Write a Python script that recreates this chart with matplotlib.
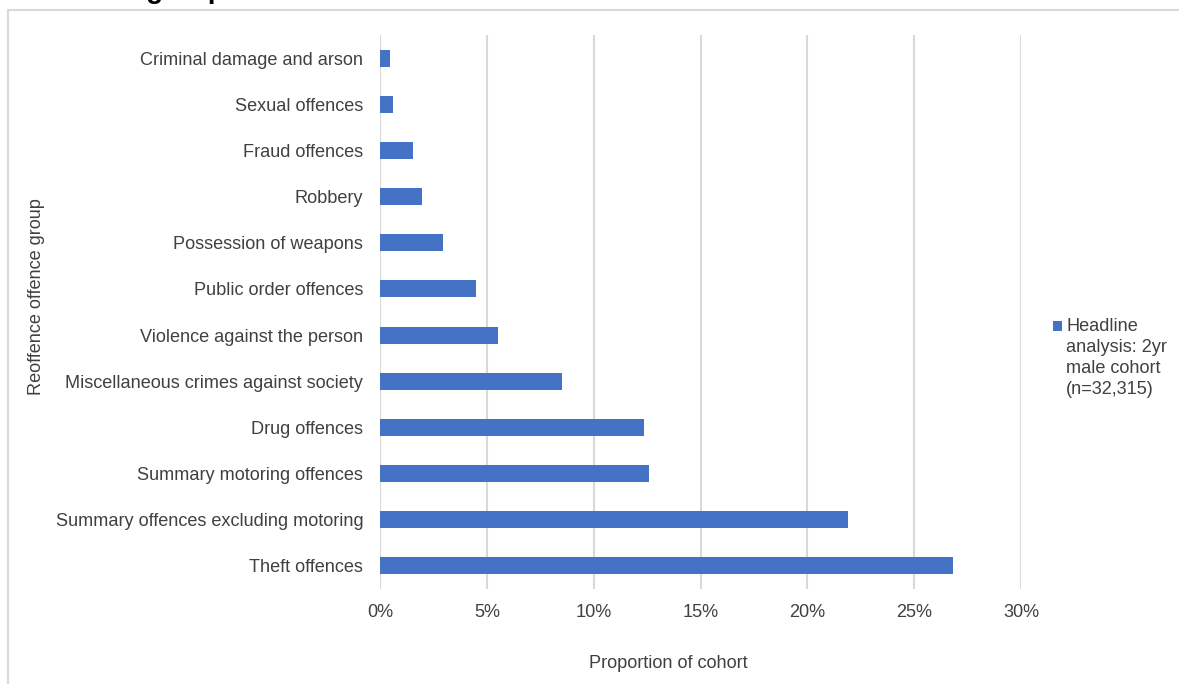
import matplotlib
matplotlib.use("Agg")
import matplotlib.pyplot as plt
from matplotlib.lines import Line2D
from matplotlib.patches import Rectangle
from matplotlib.ticker import FuncFormatter

plt.rcParams['font.family'] = ['Liberation Sans', 'DejaVu Sans']

categories = [
    "Theft offences",
    "Summary offences excluding motoring",
    "Summary motoring offences",
    "Drug offences",
    "Miscellaneous crimes against society",
    "Violence against the person",
    "Public order offences",
    "Possession of weapons",
    "Robbery",
    "Fraud offences",
    "Sexual offences",
    "Criminal damage and arson",
]
proportions = [26.8, 21.9, 12.6, 12.35, 8.5, 5.5, 4.5, 2.95, 1.95, 1.55, 0.6, 0.47]
series_name = "Headline\nanalysis: 2yr\nmale cohort\n(n=32,315)"
x_ticks = [0, 5, 10, 15, 20, 25, 30]

bar_color = "#4472C4"
grid_color = "#d9d9d9"
text_color = "#404040"
fs = 13.1

W, H = 1179, 684
fig = plt.figure(figsize=(W / 100, H / 100), dpi=100)
ax = fig.add_axes([380 / W, 1 - 589 / H, (1021 - 380) / W, (589 - 35) / H])

y = list(range(len(categories)))
ax.barh(y, proportions, height=0.37, color=bar_color, zorder=3)

ax.set_xlim(0, 30)
ax.set_ylim(-0.5, len(categories) - 0.5)
ax.set_xticks(x_ticks)
ax.xaxis.set_major_formatter(FuncFormatter(lambda v, _: f"{v:.0f}%"))
ax.set_yticks(y)
ax.set_yticklabels(categories)

for xv in x_ticks:
    ax.axvline(xv, color=grid_color, linewidth=1.5, zorder=1)

for s in ax.spines.values():
    s.set_visible(False)
ax.tick_params(axis='both', length=0, labelsize=fs, labelcolor=text_color)
ax.tick_params(axis='x', pad=11)
ax.tick_params(axis='y', pad=12)

# axis titles
fig.text(668 / W, 1 - 664 / H, "Proportion of cohort", ha='center', va='center',
         fontsize=fs, color=text_color)
fig.text(37 / W, 1 - 297 / H, "Reoffence offence group", rotation=90,
         ha='center', va='center', fontsize=fs, color=text_color)

# legend: square key next to the first line of the series name
fig.add_artist(Rectangle((1053 / W, 1 - 331 / H), 9 / W, 10 / H,
                         transform=fig.transFigure, color=bar_color, linewidth=0))
fig.text(1066 / W, 1 - 318 / H, series_name, ha='left', va='top',
         fontsize=fs, color=text_color, linespacing=1.3)

# chart frame
fig.add_artist(Line2D([8 / W, 8 / W], [0, 1 - 10 / H],
                      transform=fig.transFigure, color=grid_color, linewidth=1.5))
fig.add_artist(Line2D([8 / W, 1], [1 - 10 / H, 1 - 10 / H],
                      transform=fig.transFigure, color=grid_color, linewidth=1.5))

# heading, running off the top edge
fig.text(225 / W, 1 + 2 / H, "Reoffending by reoffence group", fontsize=20,
         fontweight='bold', color='black', ha='right', va='baseline')

fig.savefig("out.png", dpi=100)
